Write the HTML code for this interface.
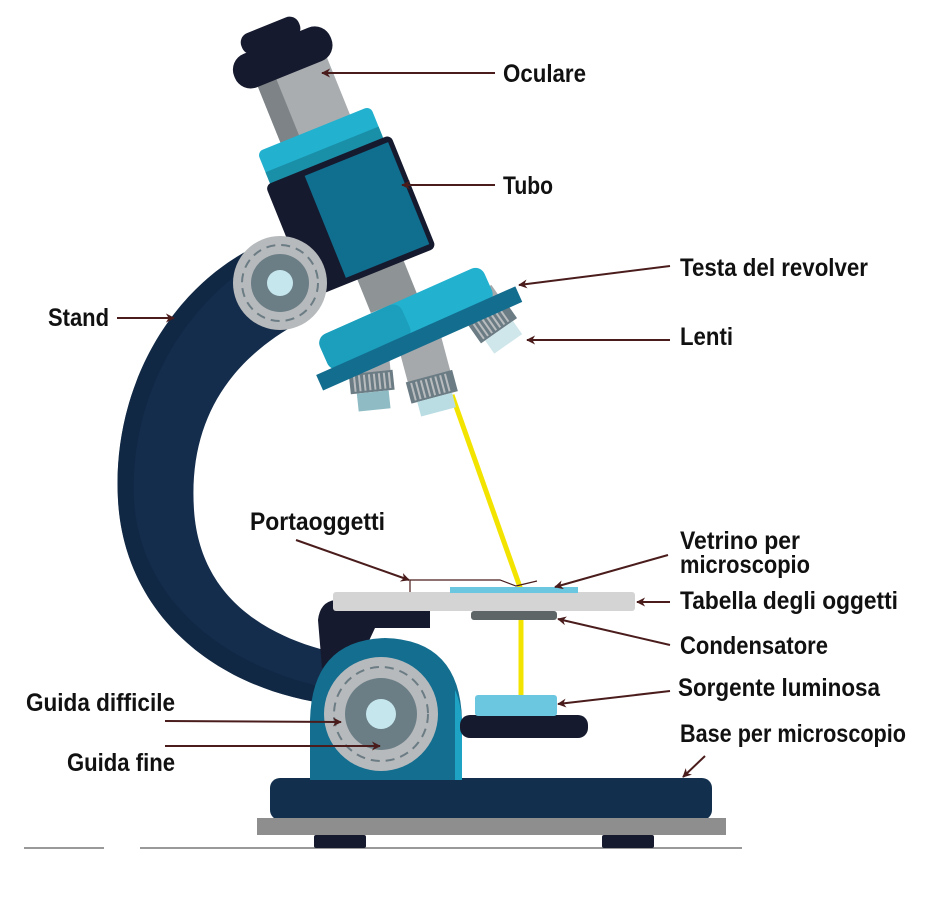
<!DOCTYPE html>
<html><head><meta charset="utf-8"><style>
html,body{margin:0;padding:0;background:#fff;}
svg{display:block;}
text{font-family:"Liberation Sans Narrow","Liberation Sans",sans-serif;font-weight:bold;fill:#111;font-size:25px;}
</style></head><body>
<svg width="927" height="900" viewBox="0 0 927 900" xmlns="http://www.w3.org/2000/svg">
<defs>
<marker id="ah" viewBox="0 0 10 10" refX="9" refY="5" markerWidth="9" markerHeight="9" orient="auto-start-reverse" markerUnits="userSpaceOnUse">
<path d="M0,0 L10,5 L0,10 L3,5 Z" fill="#4a1c1c"/></marker>
</defs>
<rect width="927" height="900" fill="#fff"/>
<line x1="24" y1="848" x2="104" y2="848" stroke="#999" stroke-width="2"/>
<line x1="140" y1="848" x2="742" y2="848" stroke="#999" stroke-width="2"/>
<line x1="452" y1="395" x2="521" y2="590" stroke="#f3e400" stroke-width="5"/>
<line x1="521" y1="618" x2="521" y2="697" stroke="#f3e400" stroke-width="5"/>
<path d="M245,252 C160,300 112,400 118,500 C124,610 210,690 335,705 L345,655 C270,640 200,600 194,510 C188,420 230,360 300,322 Z" fill="#142d4c"/>
<path d="M245,252 C160,300 112,400 118,500 C124,610 210,690 335,705 L338,690 C225,670 140,600 134,500 C130,410 170,320 250,265 Z" fill="#0f2440" opacity="0.6"/>
<path d="M335,600 L430,600 L430,628 L375,628 L360,660 L322,668 L318,620 Q320,602 335,600 Z" fill="#161a2e"/>
<rect x="270" y="778" width="442" height="42" rx="10" fill="#12304e"/>
<rect x="257" y="818" width="469" height="17" fill="#8e8e8e"/>
<rect x="314" y="835" width="52" height="13" rx="2" fill="#161a2e"/>
<rect x="602" y="835" width="52" height="13" rx="2" fill="#161a2e"/>
<path d="M310,780 L310,720 Q312,640 385,638 Q460,640 462,720 L462,780 Z" fill="#136e90"/>
<path d="M455,690 Q460,700 462,720 L462,780 L455,780 Z" fill="#1fa3c4"/>
<rect x="460" y="715" width="128" height="23" rx="10" fill="#161a2e"/>
<rect x="475" y="695" width="82" height="21" rx="3" fill="#6bc6e0"/>
<circle cx="381" cy="714" r="57" fill="#b7babc"/>
<circle cx="381" cy="714" r="47" fill="none" stroke="#6b7c84" stroke-width="2" stroke-dasharray="9,6"/>
<circle cx="381" cy="714" r="36" fill="#6b7e86"/>
<circle cx="381" cy="714" r="15" fill="#c6e6ee"/>
<rect x="333" y="592" width="302" height="19" rx="3" fill="#d4d4d4"/>
<rect x="450" y="587" width="128" height="6" fill="#6bc6e0"/>
<rect x="471" y="611" width="86" height="9" rx="3" fill="#5d6567"/>
<g transform="rotate(-6 372 385)">
<rect x="352" y="350" width="40" height="24" fill="#a5a9ac"/>
<rect x="350" y="372" width="44" height="20" fill="#6b7c84"/>
<path d="M355,374 v16 M360,374 v16 M365,374 v16 M370,374 v16 M375,374 v16 M380,374 v16 M385,374 v16 M390,374 v16" stroke="#b8bcbe" stroke-width="2"/>
<rect x="356" y="392" width="32" height="18" fill="#8fbcc4"/>
</g>
<g transform="rotate(-15 430 380)">
<rect x="408" y="335" width="44" height="44" fill="#a5a9ac"/>
<rect x="406" y="376" width="48" height="22" fill="#6b7c84"/>
<path d="M411,378 v18 M416,378 v18 M421,378 v18 M426,378 v18 M431,378 v18 M436,378 v18 M441,378 v18 M446,378 v18" stroke="#b8bcbe" stroke-width="2"/>
<rect x="412" y="398" width="36" height="15" fill="#b9dde3"/>
</g>
<g transform="rotate(-35 495 325)">
<rect x="475" y="290" width="40" height="22" fill="#a5a9ac"/>
<rect x="473" y="310" width="44" height="22" fill="#6b7c84"/>
<path d="M478,312 v18 M483,312 v18 M488,312 v18 M493,312 v18 M498,312 v18 M503,312 v18 M508,312 v18" stroke="#b8bcbe" stroke-width="2"/>
<rect x="478" y="332" width="34" height="16" fill="#cfe6ea"/>
</g>
<g transform="translate(-10,0) rotate(-22 419 330)">
<rect x="390" y="255" width="50" height="45" fill="#8e9396"/>
<rect x="370" y="30" width="75" height="88" fill="#a9adb0"/>
<rect x="370" y="30" width="20" height="88" fill="#7d8386"/>
<rect x="345" y="108" width="122" height="38" rx="6" fill="#22b1cf"/>
<rect x="345" y="130" width="122" height="16" fill="#1a8fa8"/>
<rect x="340" y="142" width="135" height="122" rx="6" fill="#161a2e"/>
<rect x="380" y="148" width="90" height="110" fill="#106e8f"/>
<rect x="352" y="12" width="104" height="36" rx="17" fill="#161a2e"/>
<rect x="370" y="-6" width="62" height="22" rx="10" fill="#161a2e"/>
</g>
<circle cx="280" cy="283" r="47" fill="#b7babc"/>
<circle cx="280" cy="283" r="38" fill="none" stroke="#6b7c84" stroke-width="2" stroke-dasharray="9,6"/>
<circle cx="280" cy="283" r="29" fill="#6b7e86"/>
<circle cx="280" cy="283" r="13" fill="#c6e6ee"/>
<g transform="rotate(-24 419 338)">
<rect x="325" y="296" width="180" height="38" rx="10" fill="#22b1cf"/>
<rect x="325" y="296" width="90" height="38" rx="10" fill="#1c9fbc"/>
<rect x="310" y="330" width="218" height="17" fill="#136d8f"/>
</g>
<g stroke="#4a1c1c" stroke-width="2" fill="none">
<line x1="495" y1="73" x2="322" y2="73" marker-end="url(#ah)"/>
<line x1="495" y1="185" x2="402" y2="185" marker-end="url(#ah)"/>
<line x1="670" y1="266" x2="519" y2="285" marker-end="url(#ah)"/>
<line x1="670" y1="340" x2="527" y2="340" marker-end="url(#ah)"/>
<line x1="117" y1="318" x2="174" y2="318" marker-end="url(#ah)"/>
<line x1="296" y1="540" x2="409" y2="580" marker-end="url(#ah)"/>
<polyline points="410,592 410,580 500,580 516,586 537,581" stroke-width="1.2"/>
<line x1="668" y1="555" x2="555" y2="587" marker-end="url(#ah)"/>
<line x1="670" y1="602" x2="637" y2="602" marker-end="url(#ah)"/>
<line x1="670" y1="645" x2="558" y2="619" marker-end="url(#ah)"/>
<line x1="670" y1="691" x2="558" y2="704" marker-end="url(#ah)"/>
<line x1="705" y1="756" x2="683" y2="777" marker-end="url(#ah)"/>
<line x1="165" y1="721" x2="341" y2="722" marker-end="url(#ah)"/>
<line x1="165" y1="746" x2="380" y2="746" marker-end="url(#ah)"/>
</g>
<text x="503" y="82" textLength="83" lengthAdjust="spacingAndGlyphs">Oculare</text>
<text x="503" y="194" textLength="50" lengthAdjust="spacingAndGlyphs">Tubo</text>
<text x="680" y="276" textLength="188" lengthAdjust="spacingAndGlyphs">Testa del revolver</text>
<text x="680" y="345" textLength="53" lengthAdjust="spacingAndGlyphs">Lenti</text>
<text x="48" y="326" textLength="61" lengthAdjust="spacingAndGlyphs">Stand</text>
<text x="250" y="530" textLength="135" lengthAdjust="spacingAndGlyphs">Portaoggetti</text>
<text x="680" y="549" textLength="120" lengthAdjust="spacingAndGlyphs">Vetrino per</text>
<text x="680" y="573" textLength="130" lengthAdjust="spacingAndGlyphs">microscopio</text>
<text x="680" y="609" textLength="218" lengthAdjust="spacingAndGlyphs">Tabella degli oggetti</text>
<text x="680" y="654" textLength="148" lengthAdjust="spacingAndGlyphs">Condensatore</text>
<text x="678" y="696" textLength="202" lengthAdjust="spacingAndGlyphs">Sorgente luminosa</text>
<text x="680" y="742" textLength="226" lengthAdjust="spacingAndGlyphs">Base per microscopio</text>
<text x="26" y="711" textLength="149" lengthAdjust="spacingAndGlyphs">Guida difficile</text>
<text x="67" y="771" textLength="108" lengthAdjust="spacingAndGlyphs">Guida fine</text>
</svg>
</body></html>
